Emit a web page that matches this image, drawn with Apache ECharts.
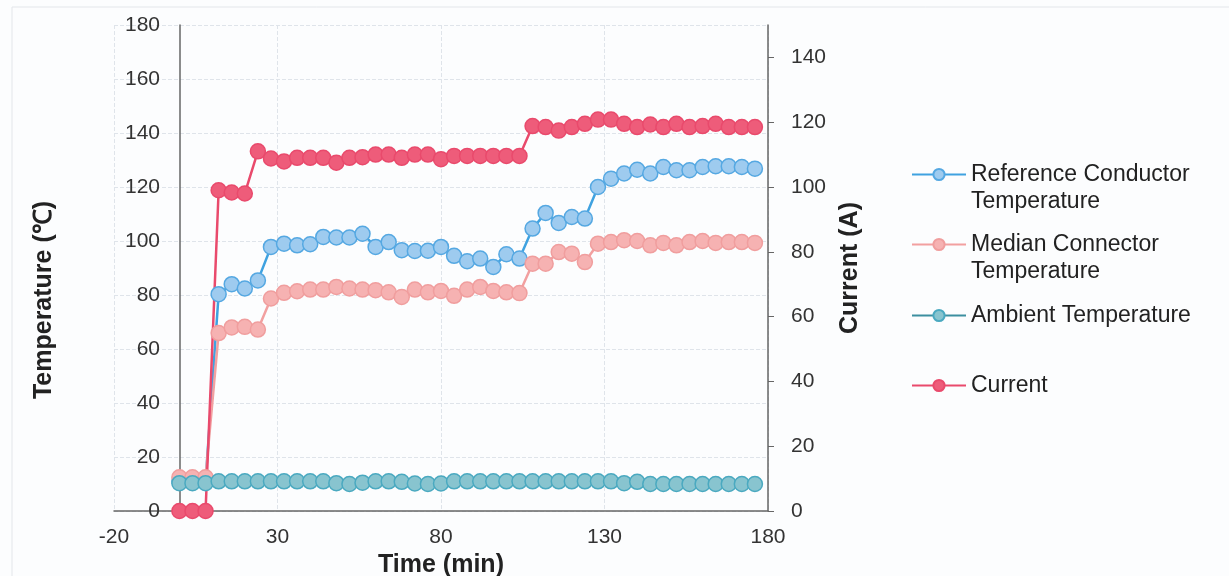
<!DOCTYPE html>
<html>
<head>
<meta charset="utf-8">
<script src="https://cdn.jsdelivr.net/npm/echarts@6/dist/echarts.min.js"></script>
<style>html,body{margin:0;padding:0;background:#fcfdfe;}#c{width:1229px;height:576px;}</style>
</head>
<body>
<div id="c"></div>
<script>
// Time (min)
const times = [0,4,8,12,16,20,24,28,32,36,40,44,48,52,56,60,64,68,72,76,80,84,88,92,96,100,104,108,112,116,120,124,128,132,136,140,144,148,152,156,160,164,168,172,176];
// Reference Conductor Temperature (℃)
const referenceTemp = [11,11,11,80.3,84,82.4,85.4,97.8,99,98.4,98.8,101.5,101.3,101.3,102.7,97.8,99.6,96.6,96.3,96.4,97.8,94.5,92.5,93.5,90.4,95.1,93.5,104.6,110.4,106.7,108.9,108.3,120,123.1,125,126.4,125,127.4,126.2,126.2,127.4,127.7,127.7,127.4,126.8];
// Median Connector Temperature (℃)
const medianTemp = [12.5,12.5,12.5,65.9,68,68.2,67.2,78.7,80.8,81.4,82,82,83,82.4,82,81.8,81,79.3,82,81,81.5,79.7,82,83,81.5,81,80.7,91.6,91.6,95.9,95.3,92.2,99,99.6,100.3,100,98.4,99.3,98.4,99.6,100,99.3,99.6,99.6,99.3];
// Ambient Temperature (℃)
const ambientTemp = [10.3,10.3,10.3,11,11,11,11,11,11,11,11,11,10.3,10,10.5,11,11,10.8,10.2,10,10.2,11,11,11,11,11,11,11,11,11,11,11,11,11,10.3,10.8,10,10,10,10,10,10,10,10,10];
// Current (A)
const currentA = [0,0,0,99,98.3,98,111,108.8,107.9,109,109,109,107.5,109,109.2,110,110,109,110,110,108.6,109.6,109.6,109.6,109.6,109.6,109.6,118.8,118.5,117.4,118.5,119.5,120.8,120.8,119.5,118.5,119.3,118.5,119.5,118.5,118.8,119.5,118.5,118.5,118.5];

const tempTicks = [0,20,40,60,80,100,120,140,160,180];
const currentTicks = [0,20,40,60,80,100,120,140];
const timeTicks = [-20,30,80,130,180];

const FONT = '"Liberation Sans", Arial, sans-serif';
const names = ['Reference Conductor Temperature','Median Connector Temperature','Ambient Temperature','Current'];
const legendText = {
  'Reference Conductor Temperature': '\nReference Conductor\nTemperature',
  'Median Connector Temperature': '\nMedian Connector\nTemperature',
  'Ambient Temperature': 'Ambient Temperature',
  'Current': 'Current'
};
const pair = arr => times.map((t, i) => [t, arr[i]]);

function mkSeries(name, data, yIdx, line, fill, border) {
  return {
    name, type: 'line', yAxisIndex: yIdx, data: pair(data),
    symbol: 'circle', symbolSize: 15, showAllSymbol: true,
    lineStyle: { color: line, width: 2.5 },
    itemStyle: { color: fill, borderColor: border, borderWidth: 1.5 },
    emphasis: { disabled: true }
  };
}

function mkLegend(name, top) {
  return {
    data: [name], left: 911, top: top, padding: 0,
    orient: 'vertical', itemWidth: 54, itemHeight: 14, itemGap: 0,
    selectedMode: false,
    formatter: n => legendText[n],
    textStyle: { fontFamily: FONT, fontSize: 23, lineHeight: 27, color: '#222' }
  };
}

const chart = echarts.init(document.getElementById('c'), null, { renderer: 'canvas' });
chart.setOption({
  backgroundColor: '#fcfdfe',
  animation: false,
  textStyle: { fontFamily: FONT },
  graphic: [{
    type: 'rect', shape: { x: 12, y: 7, width: 1230, height: 580 },
    style: { fill: 'none', stroke: '#e3e6ea', lineWidth: 1 }, silent: true
  }],
  legend: [
    mkLegend(names[0], 134),
    mkLegend(names[1], 204),
    mkLegend(names[2], 302),
    mkLegend(names[3], 372)
  ],
  grid: { left: 114, right: 461, top: 25, bottom: 65, containLabel: false, outerBoundsMode: 'none' },
  xAxis: {
    type: 'value', min: timeTicks[0], max: timeTicks[timeTicks.length - 1], interval: 50,
    axisLine: { onZero: true, lineStyle: { color: '#666', width: 1.5 } },
    axisTick: { show: false },
    axisLabel: { fontFamily: FONT, fontSize: 21, color: '#333', margin: 16 },
    splitLine: { show: true, lineStyle: { color: '#dfe4ea', type: 'dashed', width: 1 } },
    name: 'Time (min)', nameLocation: 'middle', nameGap: 34,
    nameTextStyle: { fontFamily: FONT, fontSize: 25, fontWeight: 'bold', color: '#222' }
  },
  yAxis: [{
    type: 'value', min: tempTicks[0], max: tempTicks[tempTicks.length - 1], interval: 20, position: 'left',
    axisLine: { show: true, onZero: true, lineStyle: { color: '#666', width: 1.5 } },
    axisTick: { show: false },
    axisLabel: { fontFamily: FONT, fontSize: 21, color: '#333', margin: -46 },
    splitLine: { show: true, lineStyle: { color: '#dfe4ea', type: 'dashed', width: 1 } },
    name: 'Temperature (℃)', nameLocation: 'middle', nameGap: 57,
    nameTextStyle: { fontFamily: FONT, fontSize: 25, fontWeight: 'bold', color: '#222', padding: [0, 64, 0, 0] }
  }, {
    type: 'value', min: 0, max: 150, interval: 20, position: 'right',
    axisLine: { show: true, onZero: false, lineStyle: { color: '#666', width: 1.5 } },
    axisTick: { show: true, length: 6, inside: false, customValues: currentTicks, lineStyle: { color: '#666' } },
    axisLabel: { fontFamily: FONT, fontSize: 21, color: '#333', margin: 23, customValues: currentTicks },
    splitLine: { show: false },
    name: 'Current (A)', nameLocation: 'middle', nameGap: 70,
    nameTextStyle: { fontFamily: FONT, fontSize: 25, fontWeight: 'bold', color: '#222' }
  }],
  series: [
    mkSeries(names[0], referenceTemp, 0, '#3FA2E0', '#9ECBEF', '#55A8E2'),
    mkSeries(names[1], medianTemp, 0, '#F2A0A0', '#F6B2B2', '#F09E9E'),
    mkSeries(names[2], ambientTemp, 0, '#3C8FA0', '#88C4CF', '#4AA9C0'),
    mkSeries(names[3], currentA, 1, '#E94A6C', '#EE5C7A', '#E94A6C')
  ]
});
</script>
</body>
</html>
